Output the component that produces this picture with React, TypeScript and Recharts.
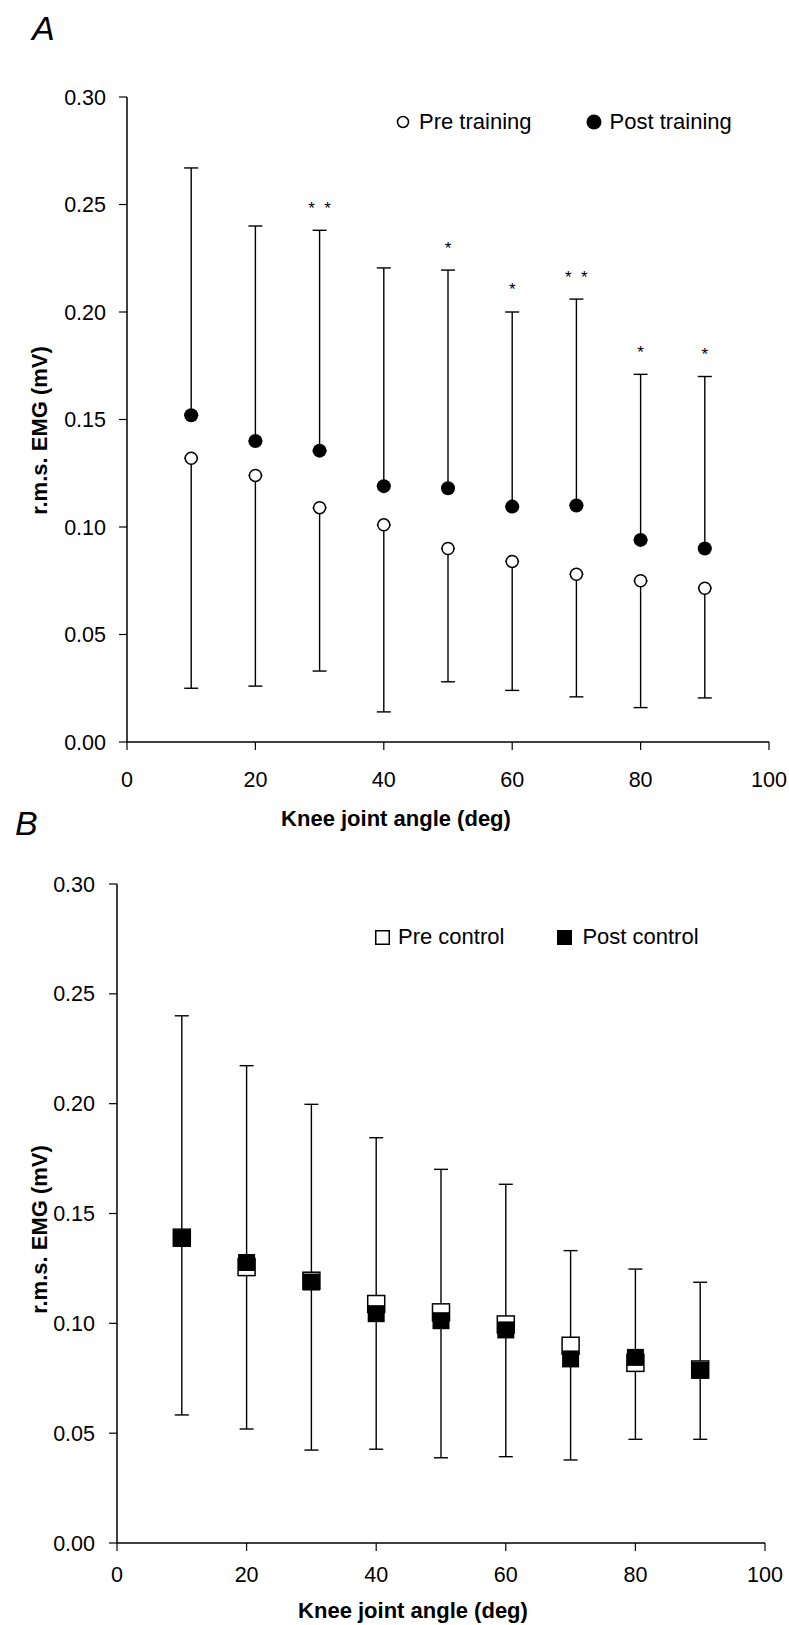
import React from 'react'
import {
  ComposedChart,
  Scatter,
  XAxis,
  YAxis,
  ErrorBar,
  LabelList,
  Label,
  Legend,
} from 'recharts'

const FONT = '"Liberation Sans", Arial, Helvetica, sans-serif'

// shared axes
const angles = [10, 20, 30, 40, 50, 60, 70, 80, 90]
const angleTicks = [0, 20, 40, 60, 80, 100]
const emgTicks = [0, 0.05, 0.1, 0.15, 0.2, 0.25, 0.3]

// panel A: training group
const preTraining = [0.132, 0.124, 0.109, 0.101, 0.09, 0.084, 0.078, 0.075, 0.0715]
const postTraining = [0.152, 0.14, 0.1355, 0.119, 0.118, 0.1095, 0.11, 0.094, 0.09]
const postTrainingUpper = [0.267, 0.24, 0.238, 0.2205, 0.2195, 0.2, 0.206, 0.171, 0.17]
const preTrainingLower = [0.025, 0.026, 0.033, 0.014, 0.028, 0.024, 0.021, 0.016, 0.0205]
const significance = ['', '', '*\u00a0\u00a0*', '', '*', '*', '*\u00a0\u00a0*', '*', '*']

// panel B: control group
const preControl = [0.139, 0.1256, 0.1194, 0.1088, 0.105, 0.0995, 0.0898, 0.082, 0.079]
const postControl = [0.1387, 0.1277, 0.1188, 0.1044, 0.1012, 0.097, 0.0838, 0.0845, 0.0786]
const postControlUpper = [0.24, 0.2173, 0.1997, 0.1845, 0.1701, 0.1633, 0.1331, 0.1247, 0.1187]
const preControlLower = [0.0583, 0.0519, 0.0423, 0.0427, 0.0388, 0.0393, 0.0378, 0.0472, 0.0472]

const trainingData = angles.map((angle, i) => ({
  angle,
  pre: preTraining[i],
  post: postTraining[i],
  upper: postTrainingUpper[i],
  preErr: [preTraining[i] - preTrainingLower[i], 0],
  postErr: [0, postTrainingUpper[i] - postTraining[i]],
  sig: significance[i],
}))

const controlData = angles.map((angle, i) => ({
  angle,
  pre: preControl[i],
  post: postControl[i],
  preErr: [preControl[i] - preControlLower[i], 0],
  postErr: [0, postControlUpper[i] - postControl[i]],
}))

const OpenCircle = (p: any) => (
  <circle cx={p.cx} cy={p.cy} r={6} fill="#fff" stroke="#000" strokeWidth={1.5} />
)
const FilledCircle = (p: any) => <circle cx={p.cx} cy={p.cy} r={7} fill="#000" />
const OpenSquare = (p: any) => (
  <rect x={p.cx - 8.5} y={p.cy - 8.5} width={17} height={17} fill="#fff" stroke="#000" strokeWidth={1.5} />
)
const FilledSquare = (p: any) => (
  <rect x={p.cx - 8.5} y={p.cy - 8.5} width={17} height={17} fill="#000" />
)
const NoMark = () => <g />

const tickStyle = { fontSize: 21.5, fill: '#000', fontFamily: FONT }

const yTitle = (shift: number) => (props: any) => {
  const { x, y, height } = props.viewBox
  const cx = x + 39
  const cy = y + height / 2 + shift
  return (
    <text
      x={cx}
      y={cy}
      transform={`rotate(-90, ${cx}, ${cy})`}
      textAnchor="middle"
      dominantBaseline="central"
      fontFamily={FONT}
      fontSize={22}
      fontWeight="bold"
      fill="#000"
    >
      r.m.s. EMG (mV)
    </text>
  )
}

const xTitle = (dx: number, dy: number) => (props: any) => {
  const { x, y, width } = props.viewBox
  return (
    <text
      x={x + width / 2 + dx}
      y={y + dy}
      textAnchor="middle"
      dominantBaseline="central"
      fontFamily={FONT}
      fontSize={22}
      fontWeight="bold"
      fill="#000"
    >
      Knee joint angle (deg)
    </text>
  )
}

const legendRow: React.CSSProperties = {
  display: 'flex',
  alignItems: 'center',
  height: 28,
  fontFamily: FONT,
  fontSize: 22,
  color: '#000',
  whiteSpace: 'nowrap',
}

const TrainingLegend = () => (
  <div style={legendRow}>
    <svg width={14} height={14}>
      <circle cx={7} cy={7} r={5.5} fill="#fff" stroke="#000" strokeWidth={1.5} />
    </svg>
    <span style={{ marginLeft: 9 }}>Pre training</span>
    <svg width={16} height={16} style={{ marginLeft: 54 }}>
      <circle cx={8} cy={8} r={7.5} fill="#000" />
    </svg>
    <span style={{ marginLeft: 8 }}>Post training</span>
  </div>
)

const ControlLegend = () => (
  <div style={legendRow}>
    <svg width={15} height={15}>
      <rect x={0.75} y={0.75} width={13.5} height={13.5} fill="#fff" stroke="#000" strokeWidth={1.5} />
    </svg>
    <span style={{ marginLeft: 8 }}>Pre control</span>
    <svg width={15} height={15} style={{ marginLeft: 53 }}>
      <rect x={0} y={0} width={15} height={15} fill="#000" />
    </svg>
    <span style={{ marginLeft: 10 }}>Post control</span>
  </div>
)

const panelLetter: React.CSSProperties = {
  position: 'absolute',
  fontFamily: FONT,
  fontStyle: 'italic',
  fontSize: 34,
  lineHeight: 1,
  color: '#000',
}

export default function App() {
  return (
    <div style={{ position: 'absolute', left: 0, top: 0, width: 789, height: 1625, background: '#fff', fontFamily: FONT }}>
      <div style={{ position: 'absolute', left: 0, top: 800 }}>
        <ComposedChart width={789} height={825} data={controlData} margin={{ top: 84, right: 24, bottom: 0, left: 0 }}>
          <XAxis
            type="number"
            dataKey="angle"
            domain={[0, 100]}
            ticks={angleTicks}
            height={82}
            tickSize={8}
            tickMargin={16}
            tick={tickStyle}
            axisLine={{ stroke: '#000', strokeWidth: 1.5 }}
            tickLine={{ stroke: '#000', strokeWidth: 1.2 }}
          >
            <Label content={xTitle(-28, 67)} />
          </XAxis>
          <YAxis
            type="number"
            domain={[0, 0.3]}
            ticks={emgTicks}
            width={117}
            tickSize={8}
            tickMargin={14}
            tick={tickStyle}
            tickFormatter={(v: number) => v.toFixed(2)}
            axisLine={{ stroke: '#000', strokeWidth: 1.5 }}
            tickLine={{ stroke: '#000', strokeWidth: 1.2 }}
            allowDataOverflow
          >
            <Label content={yTitle(16)} />
          </YAxis>
          <Legend
            layout="vertical"
            align="center"
            verticalAlign="middle"
            content={<ControlLegend />}
            wrapperStyle={{ left: 375, top: 123, width: 360, height: 28 }}
          />
          <Scatter name="Pre control" data={controlData} dataKey="pre" shape={OpenSquare} isAnimationActive={false}>
            <ErrorBar dataKey="preErr" direction="y" width={7} stroke="#000" strokeWidth={1.4} />
          </Scatter>
          <Scatter name="Post control" data={controlData} dataKey="post" shape={FilledSquare} isAnimationActive={false}>
            <ErrorBar dataKey="postErr" direction="y" width={7} stroke="#000" strokeWidth={1.4} />
          </Scatter>
        </ComposedChart>
      </div>
      <div style={{ ...panelLetter, left: 15, top: 806 }}>B</div>

      <div style={{ position: 'absolute', left: 0, top: 0 }}>
        <ComposedChart width={789} height={840} data={trainingData} margin={{ top: 97, right: 20, bottom: 0, left: 0 }}>
          <XAxis
            type="number"
            dataKey="angle"
            domain={[0, 100]}
            ticks={angleTicks}
            height={98}
            tickSize={8}
            tickMargin={22}
            tick={tickStyle}
            axisLine={{ stroke: '#000', strokeWidth: 1.5 }}
            tickLine={{ stroke: '#000', strokeWidth: 1.2 }}
          >
            <Label content={xTitle(-52, 76)} />
          </XAxis>
          <YAxis
            type="number"
            domain={[0, 0.3]}
            ticks={emgTicks}
            width={127}
            tickSize={8}
            tickMargin={13}
            tick={tickStyle}
            tickFormatter={(v: number) => v.toFixed(2)}
            axisLine={{ stroke: '#000', strokeWidth: 1.5 }}
            tickLine={{ stroke: '#000', strokeWidth: 1.2 }}
            allowDataOverflow
          >
            <Label content={yTitle(11)} />
          </YAxis>
          <Legend
            layout="vertical"
            align="center"
            verticalAlign="middle"
            content={<TrainingLegend />}
            wrapperStyle={{ left: 396, top: 108, width: 360, height: 28 }}
          />
          <Scatter name="Pre training" data={trainingData} dataKey="pre" shape={OpenCircle} isAnimationActive={false}>
            <ErrorBar dataKey="preErr" direction="y" width={7} stroke="#000" strokeWidth={1.4} />
          </Scatter>
          <Scatter name="Post training" data={trainingData} dataKey="post" shape={FilledCircle} isAnimationActive={false}>
            <ErrorBar dataKey="postErr" direction="y" width={7} stroke="#000" strokeWidth={1.4} />
          </Scatter>
          <Scatter name="sig" data={trainingData} dataKey="upper" shape={NoMark} legendType="none" isAnimationActive={false}>
            <LabelList dataKey="sig" position="top" offset={12} fill="#000" fontSize={17} fontFamily={FONT} />
          </Scatter>
        </ComposedChart>
      </div>
      <div style={{ ...panelLetter, left: 32, top: 11 }}>A</div>
    </div>
  )
}
